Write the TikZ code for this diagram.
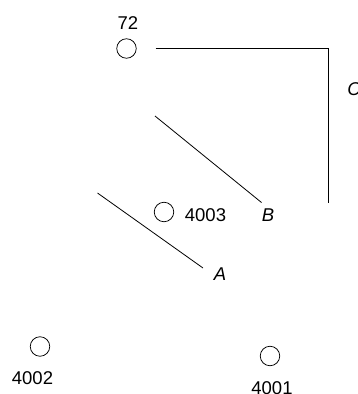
\documentclass[tikz,border=0pt]{standalone}
\usepackage{fontspec}
\setmainfont{Liberation Sans}
\begin{document}
\begin{tikzpicture}[x=1pt,y=-1pt,
  stn/.style={circle,draw,line width=0.75pt,minimum size=19.5pt,inner sep=0pt},
  lbl/.style={inner sep=0pt,font=\fontsize{18.5}{21}\selectfont},
  ilbl/.style={inner sep=0pt,font=\fontsize{18.5}{21}\selectfont\itshape},
  ln/.style={line width=0.8pt}]
\useasboundingbox (0,0) rectangle (357,394);
\node[stn] (s72) at (126.5,48.5) {};
\node[lbl] (t72) at (128,23.5) {72};
\node[stn] (s4003) at (164,212) {};
\node[lbl] (t4003) at (205.5,215) {4003};
\node[stn] (s4002) at (40,346.5) {};
\node[lbl] (t4002) at (32.5,378.5) {4002};
\node[stn] (s4001) at (270,356) {};
\node[lbl] (t4001) at (272,388.5) {4001};
\coordinate (c1) at (155.5,48);
\coordinate (c2) at (328,48);
\coordinate (c3) at (328,202.5);
\coordinate (b1) at (155,116);
\coordinate (b2) at (261.5,202.5);
\coordinate (a1) at (97.5,193);
\coordinate (a2) at (203,268);
\draw[ln] (c1) -- (c2) -- (c3);
\draw[ln] (b1) -- (b2);
\draw[ln] (a1) -- (a2);
\node[ilbl] (tC) at (354,89) {C};
\node[ilbl] (tB) at (268,215) {B};
\node[ilbl] (tA) at (220,274) {A};
\end{tikzpicture}
\end{document}
